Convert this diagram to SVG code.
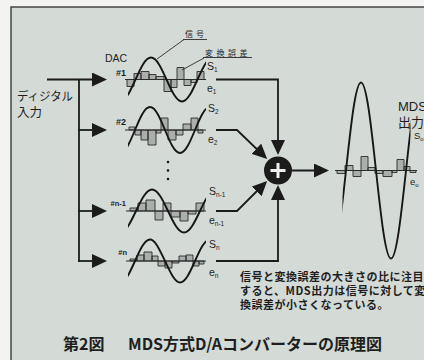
<svg xmlns="http://www.w3.org/2000/svg" width="424" height="360" viewBox="0 0 424 360">
<defs>
<style>
.ln{fill:none;stroke:#1b1b1b;stroke-width:1.8}
.thin{fill:none;stroke:#2a2a2a;stroke-width:0.9}
.sw{fill:none;stroke:#161616;stroke-width:1.9}
.ax{fill:none;stroke:#2a2a2a;stroke-width:1.1}
.bar{fill:#aaafac;stroke:#2a2a2a;stroke-width:0.9}
.lat{font-family:"Liberation Sans",Arial,sans-serif;fill:#1e1e1e}
.jp{font-family:"Noto Sans CJK JP","Noto Sans",sans-serif;fill:#1e1e1e}
.sl{font-family:"Liberation Sans",Arial,sans-serif;fill:#1e1e1e;font-size:10.5px}
.sub{font-size:6.5px}
.num{font-family:"Liberation Sans",Arial,sans-serif;fill:#1e1e1e;font-weight:bold}
.cap{font-family:"Noto Sans CJK JP","Noto Sans",sans-serif;fill:#1e1e1e;font-weight:bold;font-size:11px;letter-spacing:0.5px}
</style>
<marker id="ah" markerUnits="userSpaceOnUse" markerWidth="15" markerHeight="14" viewBox="0 0 15 14" refX="12" refY="7" orient="auto"><path d="M0,0 L15,7 L0,14 z" fill="#1b1b1b"/></marker>
<clipPath id="cd"><rect x="128" y="0" width="78" height="360"/></clipPath>
<clipPath id="co"><rect x="342.5" y="0" width="68" height="360"/></clipPath>
</defs>

<rect width="424" height="360" fill="#f3f3f1"/>
<rect x="11" y="7" width="420" height="360" fill="#d4dad6" stroke="#3c3c3c" stroke-width="1.4"/>

<g id="input">
<text class="jp" font-size="12" x="17" y="100.5" textLength="56" lengthAdjust="spacingAndGlyphs">ディジタル</text>
<text class="jp" font-size="12" x="17" y="116.5" textLength="25" lengthAdjust="spacingAndGlyphs">入力</text>
</g>

<g id="dac1">
<path class="bar" d="M127,79.5v7h7v-7z M134,79.5v-6h7v6z M141,79.5v-8h8v8z M149,79.5v-5h7v5z M156,79.5v-3h8v3z M164,79.5v12h7v-12z M171,79.5v8h6v-8z M177,79.5v-12h7v12z M184,79.5v6h7v-6z M191,79.5v3h6v-3z M197,79.5v-8h7v8z"/>
<path class="ax" d="M125,79.5H206"/>
<path class="sw" clip-path="url(#cd)" d="M120,101.5 C125.59,101.5 130.32,91.05 135.5,79.5 S145.41,57.5 151,57.5 S161.32,67.95 166.5,79.5 S176.41,101.5 182,101.5 S192.32,91.05 197.5,79.5 S207.41,57.5 213,57.5"/>
<text class="lat" font-size="10.5" x="105" y="62">DAC</text>
<text class="num" font-size="9" x="126" y="75.5" text-anchor="end">#1</text>
<text class="sl" x="207" y="70">S<tspan class="sub" dy="2">1</tspan></text>
<text class="sl" x="207" y="92">e<tspan class="sub" dy="2">1</tspan></text>
</g>

<g id="dac2">
<path class="bar" d="M129,130v-3h6v3z M135,130v5h6v-5z M141,130v10h7v-10z M148,130v15h8v-15z M156,130v3h5v-3z M161,130v-12h7v12z M168,130v10h8v-10z M176,130v5h7v-5z M183,130v-6h8v6z M191,130v-12h7v12z M198,130v3h5v-3z"/>
<path class="ax" d="M125,130H206"/>
<path class="sw" clip-path="url(#cd)" d="M120,153 C125.41,153 129.99,142.08 135,130 S144.59,107 150,107 S159.99,117.92 165,130 S174.59,153 180,153 S189.99,142.08 195,130 S204.59,107 210,107"/>
<text class="num" font-size="9" x="126" y="125" text-anchor="end">#2</text>
<text class="sl" x="208" y="112">S<tspan class="sub" dy="2">2</tspan></text>
<text class="sl" x="208" y="143">e<tspan class="sub" dy="2">2</tspan></text>
</g>

<g id="dots" fill="#1b1b1b">
<circle cx="168" cy="162" r="1.3"/>
<circle cx="168" cy="170.5" r="1.3"/>
<circle cx="168" cy="179" r="1.3"/>
</g>

<g id="dacn1">
<path class="bar" d="M130,211v-3h8v3z M138,211v-8h8v8z M146,211v-11h9v11z M155,211v9h8v-9z M163,211v-8h8v8z M171,211v6h9v-6z M180,211v10h8v-10z M188,211v3h8v-3z M196,211v-8h8v8z"/>
<path class="ax" d="M126,211H206"/>
<path class="sw" clip-path="url(#cd)" d="M120,232.5 C125.77,232.5 130.65,222.29 136,211 S146.23,189.5 152,189.5 S162.65,199.71 168,211 S178.23,232.5 184,232.5 S194.65,222.29 200,211 S210.23,189.5 216,189.5"/>
<text class="num" font-size="7.5" x="126" y="206" text-anchor="end">#n-1</text>
<text class="sl" x="209" y="195">S<tspan class="sub" dy="2">n-1</tspan></text>
<text class="sl" x="209" y="224">e<tspan class="sub" dy="2">n-1</tspan></text>
</g>

<g id="dacn">
<path class="bar" d="M130,261v-2h7v2z M137,261v-6h7v6z M144,261v-9h8v9z M152,261v-5h6v5z M158,261v5h7v-5z M165,261v7h7v-7z M172,261v2h7v-2z M179,261v-5h7v5z M186,261v-6h7v6z M193,261v5h6v-5z M199,261v3h5v-3z"/>
<path class="ax" d="M126,261H206"/>
<path class="sw" clip-path="url(#cd)" d="M120,282.5 C125.41,282.5 129.99,272.29 135,261 S144.59,239.5 150,239.5 S159.99,250.71 165,261 S174.59,282.5 180,282.5 S189.99,272.29 195,261 S204.59,239.5 210,239.5"/>
<text class="num" font-size="7.5" x="127" y="255" text-anchor="end">#n</text>
<text class="sl" x="209" y="248">S<tspan class="sub" dy="2">n</tspan></text>
<text class="sl" x="209" y="276">e<tspan class="sub" dy="2">n</tspan></text>
</g>

<g id="sum">
<circle cx="278" cy="170.5" r="14" fill="#1b1b1b"/>
<path d="M278,163V178M270.5,170.5H285.5" stroke="#eef0ee" stroke-width="3" fill="none"/>
</g>

<g id="output">
<path class="bar" d="M337,170.5v3h8v-3z M345,170.5v-5h8v5z M353,170.5v6h8v-6z M361,170.5v-14h7v14z M368,170.5v-3h7v3z M375,170.5v3h8v-3z M383,170.5v6h9v-6z M392,170.5v2h5v-2z M397,170.5v-11h7v11z M404,170.5v-4h6v4z M410,170.5v2h6v-2z"/>
<path class="ax" d="M335,170.5H417"/>
<path class="sw" clip-path="url(#co)" d="M331,258.5 C336.41,258.5 340.99,216.71 346,170.5 S355.59,82.5 361,82.5 S370.99,124.29 376,170.5 S385.59,258.5 391,258.5 S400.99,216.71 406,170.5 S415.59,82.5 421,82.5"/>
<text class="lat" font-size="13" x="398" y="111">MDS</text>
<text class="jp" font-size="13" x="398" y="127">出力</text>
<text class="lat" font-size="9.5" x="414" y="139">S<tspan font-size="6" dy="1.5">o</tspan></text>
<text class="lat" font-size="9.5" x="410" y="185">e<tspan font-size="6" dy="1.5">o</tspan></text>
</g>

<g id="annotations">
<text class="jp" font-size="8" x="185" y="37" letter-spacing="3">信号</text>
<path class="thin" d="M183,39.5H207 M184,39.5L157,59"/>
<text class="jp" font-size="8" x="205" y="55.5" letter-spacing="3.5">変換誤差</text>
<path class="thin" d="M203,57.5H252 M204,58L182,70"/>
</g>

<g id="connectors">
<path class="ln" d="M47,79.5H104" marker-end="url(#ah)"/>
<path class="ln" d="M79,79.5V261.9"/>
<path class="ln" d="M78.1,130H104" marker-end="url(#ah)"/>
<path class="ln" d="M78.1,211H104" marker-end="url(#ah)"/>
<path class="ln" d="M78.1,261H104" marker-end="url(#ah)"/>
<path class="ln" d="M216,79.5H278V152" marker-end="url(#ah)"/>
<path class="ln" d="M216,130H237L265,157" marker-end="url(#ah)"/>
<path class="ln" d="M216,211H237L265,183" marker-end="url(#ah)"/>
<path class="ln" d="M216,261H278V188" marker-end="url(#ah)"/>
<path class="ln" d="M292,170.5H326" marker-end="url(#ah)"/>
</g>

<g id="caption">
<text class="cap" x="240" y="280.5">信号と変換誤差の大きさの比に注目</text>
<text class="cap" x="240" y="294.5">すると、MDS出力は信号に対して変</text>
<text class="cap" x="240" y="308.5">換誤差が小さくなっている。</text>
</g>

<g id="title">
<text class="jp" font-weight="bold" font-size="16" x="63" y="350">第2図</text>
<text class="jp" font-weight="bold" font-size="16" x="128" y="350">MDS方式D/Aコンバーターの原理図</text>
</g>
</svg>
